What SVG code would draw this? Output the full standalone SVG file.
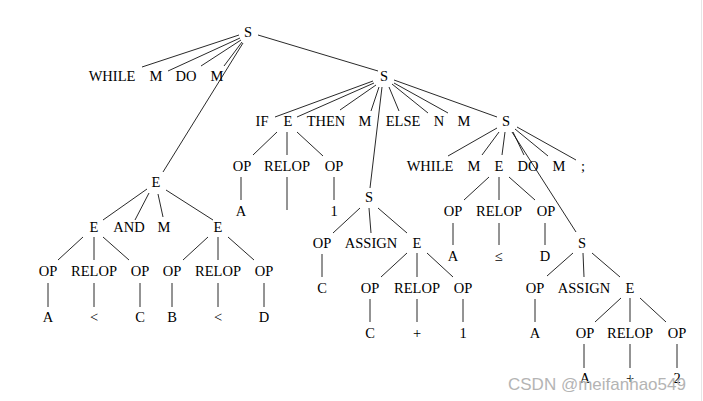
<svg xmlns="http://www.w3.org/2000/svg" width="703" height="401" viewBox="0 0 703 401">
<style>
text{font-family:"Liberation Serif","Times New Roman",serif;font-size:14.5px;fill:#000;text-anchor:middle}
#edges line{stroke:#111;stroke-width:0.9}
.wm{font-family:"Liberation Sans",Arial,sans-serif;font-size:17px;fill:#b4b4b4;text-anchor:start}
</style>
<rect width="703" height="401" fill="#fff"/>
<line x1="701.5" y1="0" x2="701.5" y2="401" stroke="#e6e6e6"/>
<g id="edges">
<line x1="239" y1="35" x2="142" y2="67"/>
<line x1="240" y1="38" x2="168" y2="71"/>
<line x1="241" y1="40" x2="201" y2="66"/>
<line x1="242" y1="42" x2="224" y2="66"/>
<line x1="243" y1="43" x2="163" y2="172"/>
<line x1="258" y1="35" x2="378" y2="71"/>
<line x1="373" y1="81" x2="275" y2="117"/>
<line x1="374" y1="83" x2="297" y2="117"/>
<line x1="376" y1="85" x2="340" y2="110"/>
<line x1="379" y1="87" x2="371" y2="111"/>
<line x1="382" y1="87" x2="370" y2="188"/>
<line x1="389" y1="87" x2="399" y2="111"/>
<line x1="392" y1="84" x2="428" y2="113"/>
<line x1="394" y1="83" x2="448" y2="113"/>
<line x1="394" y1="80" x2="497" y2="117"/>
<line x1="277" y1="132" x2="253" y2="155"/>
<line x1="287" y1="132" x2="287" y2="155"/>
<line x1="297" y1="132" x2="323" y2="156"/>
<line x1="241" y1="177" x2="241" y2="200"/>
<line x1="287" y1="177" x2="287" y2="210"/>
<line x1="334" y1="177" x2="334" y2="200"/>
<line x1="360" y1="208" x2="333" y2="233"/>
<line x1="369" y1="208" x2="371" y2="233"/>
<line x1="378" y1="208" x2="407" y2="233"/>
<line x1="322" y1="254" x2="322" y2="277"/>
<line x1="407" y1="253" x2="381" y2="277"/>
<line x1="417" y1="253" x2="417" y2="277"/>
<line x1="427" y1="253" x2="453" y2="277"/>
<line x1="370" y1="299" x2="370" y2="322"/>
<line x1="417" y1="299" x2="417" y2="322"/>
<line x1="463" y1="299" x2="463" y2="322"/>
<line x1="497" y1="128" x2="448" y2="156"/>
<line x1="499" y1="132" x2="482" y2="155"/>
<line x1="505" y1="132" x2="502" y2="155"/>
<line x1="513" y1="132" x2="524" y2="155"/>
<line x1="515" y1="129" x2="548" y2="156"/>
<line x1="517" y1="127" x2="576" y2="160"/>
<line x1="512" y1="132" x2="576" y2="232"/>
<line x1="489" y1="177" x2="464" y2="200"/>
<line x1="499" y1="177" x2="499" y2="200"/>
<line x1="509" y1="177" x2="535" y2="200"/>
<line x1="453" y1="223" x2="453" y2="245"/>
<line x1="499" y1="223" x2="499" y2="245"/>
<line x1="545" y1="223" x2="545" y2="245"/>
<line x1="573" y1="253" x2="547" y2="276"/>
<line x1="583" y1="253" x2="584" y2="277"/>
<line x1="592" y1="253" x2="620" y2="277"/>
<line x1="535" y1="299" x2="535" y2="322"/>
<line x1="621" y1="298" x2="595" y2="322"/>
<line x1="630" y1="298" x2="630" y2="322"/>
<line x1="640" y1="298" x2="666" y2="322"/>
<line x1="584" y1="344" x2="584" y2="368"/>
<line x1="630" y1="344" x2="630" y2="368"/>
<line x1="677" y1="344" x2="677" y2="368"/>
<line x1="147" y1="189" x2="103" y2="220"/>
<line x1="149" y1="193" x2="135" y2="220"/>
<line x1="158" y1="194" x2="163" y2="217"/>
<line x1="166" y1="190" x2="213" y2="220"/>
<line x1="83" y1="237" x2="58" y2="260"/>
<line x1="94" y1="237" x2="94" y2="260"/>
<line x1="103" y1="237" x2="129" y2="260"/>
<line x1="208" y1="237" x2="183" y2="260"/>
<line x1="218" y1="237" x2="218" y2="260"/>
<line x1="228" y1="237" x2="254" y2="260"/>
<line x1="48" y1="283" x2="48" y2="307"/>
<line x1="94" y1="283" x2="94" y2="307"/>
<line x1="140" y1="283" x2="140" y2="307"/>
<line x1="172" y1="283" x2="172" y2="307"/>
<line x1="218" y1="283" x2="218" y2="307"/>
<line x1="264" y1="283" x2="264" y2="307"/>
</g>
<g id="n0"><text x="248" y="37">S</text></g>
<g id="n1"><text x="112" y="81">WHILE</text></g>
<g id="n2"><text x="156" y="81">M</text></g>
<g id="n3"><text x="186" y="81">DO</text></g>
<g id="n4"><text x="217" y="81">M</text></g>
<g id="n5"><text x="384" y="81">S</text></g>
<g id="n6"><text x="156" y="187">E</text></g>
<g id="n7"><text x="262" y="126">IF</text></g>
<g id="n8"><text x="288" y="126">E</text></g>
<g id="n9"><text x="326" y="126">THEN</text></g>
<g id="n10"><text x="365" y="126">M</text></g>
<g id="n11"><text x="403" y="126">ELSE</text></g>
<g id="n12"><text x="439" y="126">N</text></g>
<g id="n13"><text x="464" y="126">M</text></g>
<g id="n14"><text x="506" y="126">S</text></g>
<g id="n15"><text x="242" y="171">OP</text></g>
<g id="n16"><text x="287" y="171">RELOP</text></g>
<g id="n17"><text x="334" y="171">OP</text></g>
<g id="n18"><text x="241" y="216">A</text></g>
<g id="n19"><text x="334" y="216">1</text></g>
<g id="n20"><text x="369" y="202">S</text></g>
<g id="n21"><text x="322" y="248">OP</text></g>
<g id="n22"><text x="371" y="248">ASSIGN</text></g>
<g id="n23"><text x="417" y="248">E</text></g>
<g id="n24"><text x="322" y="293">C</text></g>
<g id="n25"><text x="370" y="293">OP</text></g>
<g id="n26"><text x="417" y="293">RELOP</text></g>
<g id="n27"><text x="463" y="293">OP</text></g>
<g id="n28"><text x="370" y="338">C</text></g>
<g id="n29"><text x="417" y="338">+</text></g>
<g id="n30"><text x="463" y="338">1</text></g>
<g id="n31"><text x="430" y="171">WHILE</text></g>
<g id="n32"><text x="474" y="171">M</text></g>
<g id="n33"><text x="499" y="171">E</text></g>
<g id="n34"><text x="528" y="171">DO</text></g>
<g id="n35"><text x="559" y="171">M</text></g>
<g id="n36"><text x="583" y="171">;</text></g>
<g id="n37"><text x="453" y="216">OP</text></g>
<g id="n38"><text x="499" y="216">RELOP</text></g>
<g id="n39"><text x="546" y="216">OP</text></g>
<g id="n40"><text x="453" y="261">A</text></g>
<g id="n41"><text x="499" y="261">≤</text></g>
<g id="n42"><text x="545" y="261">D</text></g>
<g id="n43"><text x="582" y="248">S</text></g>
<g id="n44"><text x="535" y="293">OP</text></g>
<g id="n45"><text x="584" y="293">ASSIGN</text></g>
<g id="n46"><text x="630" y="293">E</text></g>
<g id="n47"><text x="535" y="338">A</text></g>
<g id="n48"><text x="585" y="338">OP</text></g>
<g id="n49"><text x="630" y="338">RELOP</text></g>
<g id="n50"><text x="677" y="338">OP</text></g>
<g id="n51"><text x="585" y="383">A</text></g>
<g id="n52"><text x="630" y="383">+</text></g>
<g id="n53"><text x="677" y="383">2</text></g>
<g id="n54"><text x="94" y="232">E</text></g>
<g id="n55"><text x="129" y="232">AND</text></g>
<g id="n56"><text x="164" y="232">M</text></g>
<g id="n57"><text x="218" y="232">E</text></g>
<g id="n58"><text x="48" y="276">OP</text></g>
<g id="n59"><text x="94" y="276">RELOP</text></g>
<g id="n60"><text x="140" y="276">OP</text></g>
<g id="n61"><text x="172" y="276">OP</text></g>
<g id="n62"><text x="218" y="276">RELOP</text></g>
<g id="n63"><text x="264" y="276">OP</text></g>
<g id="n64"><text x="48" y="322">A</text></g>
<g id="n65"><text x="94" y="322">&lt;</text></g>
<g id="n66"><text x="140" y="322">C</text></g>
<g id="n67"><text x="172" y="322">B</text></g>
<g id="n68"><text x="218" y="322">&lt;</text></g>
<g id="n69"><text x="264" y="322">D</text></g>
<text class="wm" x="508" y="390">CSDN @meifanhao549</text>
</svg>
